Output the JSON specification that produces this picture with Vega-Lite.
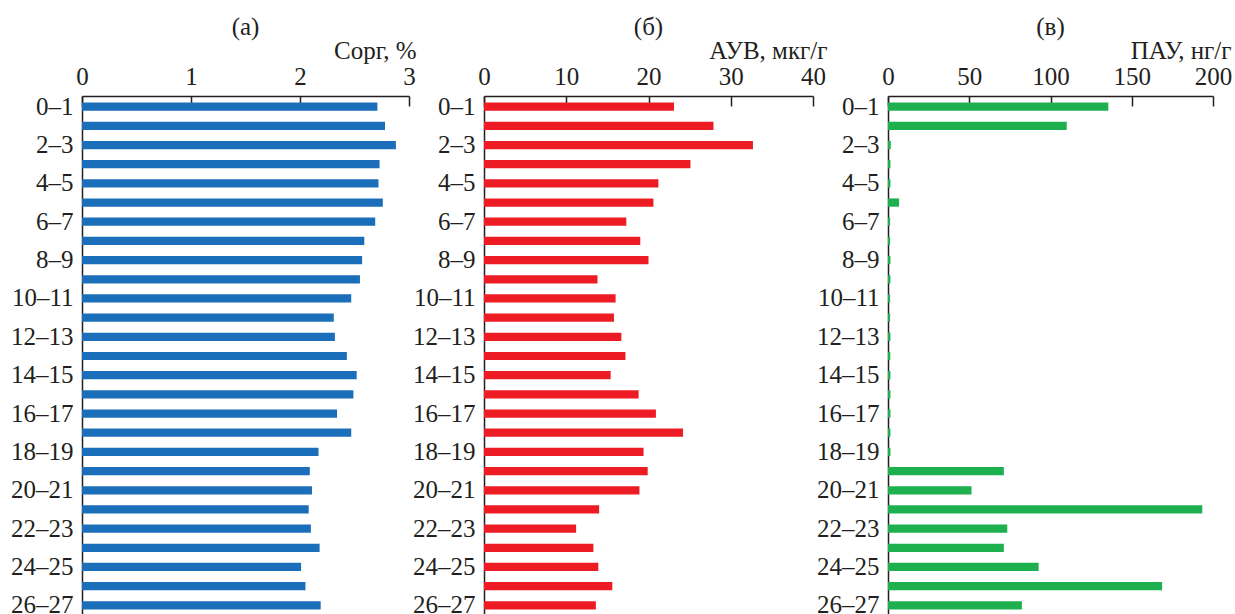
{
  "$schema": "https://vega.github.io/schema/vega-lite/v6.json",
  "padding": {"left": 10, "top": 15, "right": 0, "bottom": 0},
  "background": "white",
  "data": {"values": [
    {"depth": "0–1", "c": 2.71, "auv": 23.1, "pau": 135.6},
    {"depth": "1–2", "c": 2.78, "auv": 27.9, "pau": 110},
    {"depth": "2–3", "c": 2.88, "auv": 32.7, "pau": 1.7},
    {"depth": "3–4", "c": 2.73, "auv": 25.1, "pau": 1.5},
    {"depth": "4–5", "c": 2.72, "auv": 21.2, "pau": 1.5},
    {"depth": "5–6", "c": 2.76, "auv": 20.6, "pau": 6.8},
    {"depth": "6–7", "c": 2.69, "auv": 17.3, "pau": 1.3},
    {"depth": "7–8", "c": 2.59, "auv": 19.0, "pau": 1.3},
    {"depth": "8–9", "c": 2.57, "auv": 20.0, "pau": 1.5},
    {"depth": "9–10", "c": 2.55, "auv": 13.8, "pau": 1.5},
    {"depth": "10–11", "c": 2.47, "auv": 16.0, "pau": 1.3},
    {"depth": "11–12", "c": 2.31, "auv": 15.8, "pau": 1.3},
    {"depth": "12–13", "c": 2.32, "auv": 16.7, "pau": 1.5},
    {"depth": "13–14", "c": 2.43, "auv": 17.2, "pau": 1.4},
    {"depth": "14–15", "c": 2.52, "auv": 15.4, "pau": 1.5},
    {"depth": "15–16", "c": 2.49, "auv": 18.8, "pau": 1.5},
    {"depth": "16–17", "c": 2.34, "auv": 20.9, "pau": 1.5},
    {"depth": "17–18", "c": 2.47, "auv": 24.2, "pau": 1.5},
    {"depth": "18–19", "c": 2.17, "auv": 19.4, "pau": 1.5},
    {"depth": "19–20", "c": 2.09, "auv": 19.9, "pau": 71.3},
    {"depth": "20–21", "c": 2.11, "auv": 18.9, "pau": 51.4},
    {"depth": "21–22", "c": 2.08, "auv": 14.0, "pau": 193.4},
    {"depth": "22–23", "c": 2.10, "auv": 11.2, "pau": 73.4},
    {"depth": "23–24", "c": 2.18, "auv": 13.3, "pau": 71.3},
    {"depth": "24–25", "c": 2.01, "auv": 13.9, "pau": 92.7},
    {"depth": "25–26", "c": 2.05, "auv": 15.6, "pau": 168.7},
    {"depth": "26–27", "c": 2.19, "auv": 13.6, "pau": 82.4}
  ]},
  "spacing": 75,
  "bounds": "flush",
  "hconcat": [
    {
      "width": 327, "height": 520,
      "title": {"text": "(а)", "anchor": "middle", "offset": -2},
      "mark": {"type": "bar", "color": "#1b6fba"},
      "encoding": {
        "y": {"field": "depth", "type": "nominal", "sort": null,
              "scale": {"paddingInner": 0.57, "paddingOuter": 0.34},
              "axis": {"title": null, "ticks": false, "labelPadding": 9,
                       "values": ["0–1","2–3","4–5","6–7","8–9","10–11","12–13","14–15","16–17","18–19","20–21","22–23","24–25","26–27"]}},
        "x": {"field": "c", "type": "quantitative", "scale": {"domain": [0, 3], "nice": false},
              "axis": {"orient": "top", "values": [0, 1, 2, 3], "tickSize": -10, "labelPadding": 17, "labelFlush": false,
                       "title": "Cорг, %", "titleX": 334, "titleY": -38, "titleAlign": "right", "titleBaseline": "alphabetic"}}
      }
    },
    {
      "width": 329, "height": 520,
      "title": {"text": "(б)", "anchor": "middle", "offset": -2},
      "mark": {"type": "bar", "color": "#ed1c24"},
      "encoding": {
        "y": {"field": "depth", "type": "nominal", "sort": null,
              "scale": {"paddingInner": 0.57, "paddingOuter": 0.34},
              "axis": {"title": null, "ticks": false, "labelPadding": 9,
                       "values": ["0–1","2–3","4–5","6–7","8–9","10–11","12–13","14–15","16–17","18–19","20–21","22–23","24–25","26–27"]}},
        "x": {"field": "auv", "type": "quantitative", "scale": {"domain": [0, 40], "nice": false},
              "axis": {"orient": "top", "values": [0, 10, 20, 30, 40], "tickSize": -10, "labelPadding": 17, "labelFlush": false,
                       "title": "АУВ, мкг/г", "titleX": 343, "titleY": -38, "titleAlign": "right", "titleBaseline": "alphabetic"}}
      }
    },
    {
      "width": 325, "height": 520,
      "title": {"text": "(в)", "anchor": "middle", "offset": -2},
      "mark": {"type": "bar", "color": "#1eb04f"},
      "encoding": {
        "y": {"field": "depth", "type": "nominal", "sort": null,
              "scale": {"paddingInner": 0.57, "paddingOuter": 0.34},
              "axis": {"title": null, "ticks": false, "labelPadding": 9,
                       "values": ["0–1","2–3","4–5","6–7","8–9","10–11","12–13","14–15","16–17","18–19","20–21","22–23","24–25","26–27"]}},
        "x": {"field": "pau", "type": "quantitative", "scale": {"domain": [0, 200], "nice": false},
              "axis": {"orient": "top", "values": [0, 50, 100, 150, 200], "tickSize": -10, "labelPadding": 17, "labelFlush": false,
                       "title": "ПАУ, нг/г", "titleX": 343, "titleY": -38, "titleAlign": "right", "titleBaseline": "alphabetic"}}
      }
    }
  ],
  "config": {
    "view": {"stroke": null},
    "font": "Liberation Serif",
    "axis": {"labelFont": "Liberation Serif", "titleFont": "Liberation Serif", "labelColor": "#231f20", "titleColor": "#231f20",
             "domainColor": "#231f20", "tickColor": "#231f20", "labelFontSize": 25, "titleFontSize": 25, "titleFontWeight": "normal",
             "grid": false, "domainWidth": 1.5, "tickWidth": 1.5, "labelOverlap": false},
    "title": {"font": "Liberation Serif", "fontSize": 25, "fontWeight": "normal", "color": "#231f20"}
  }
}
